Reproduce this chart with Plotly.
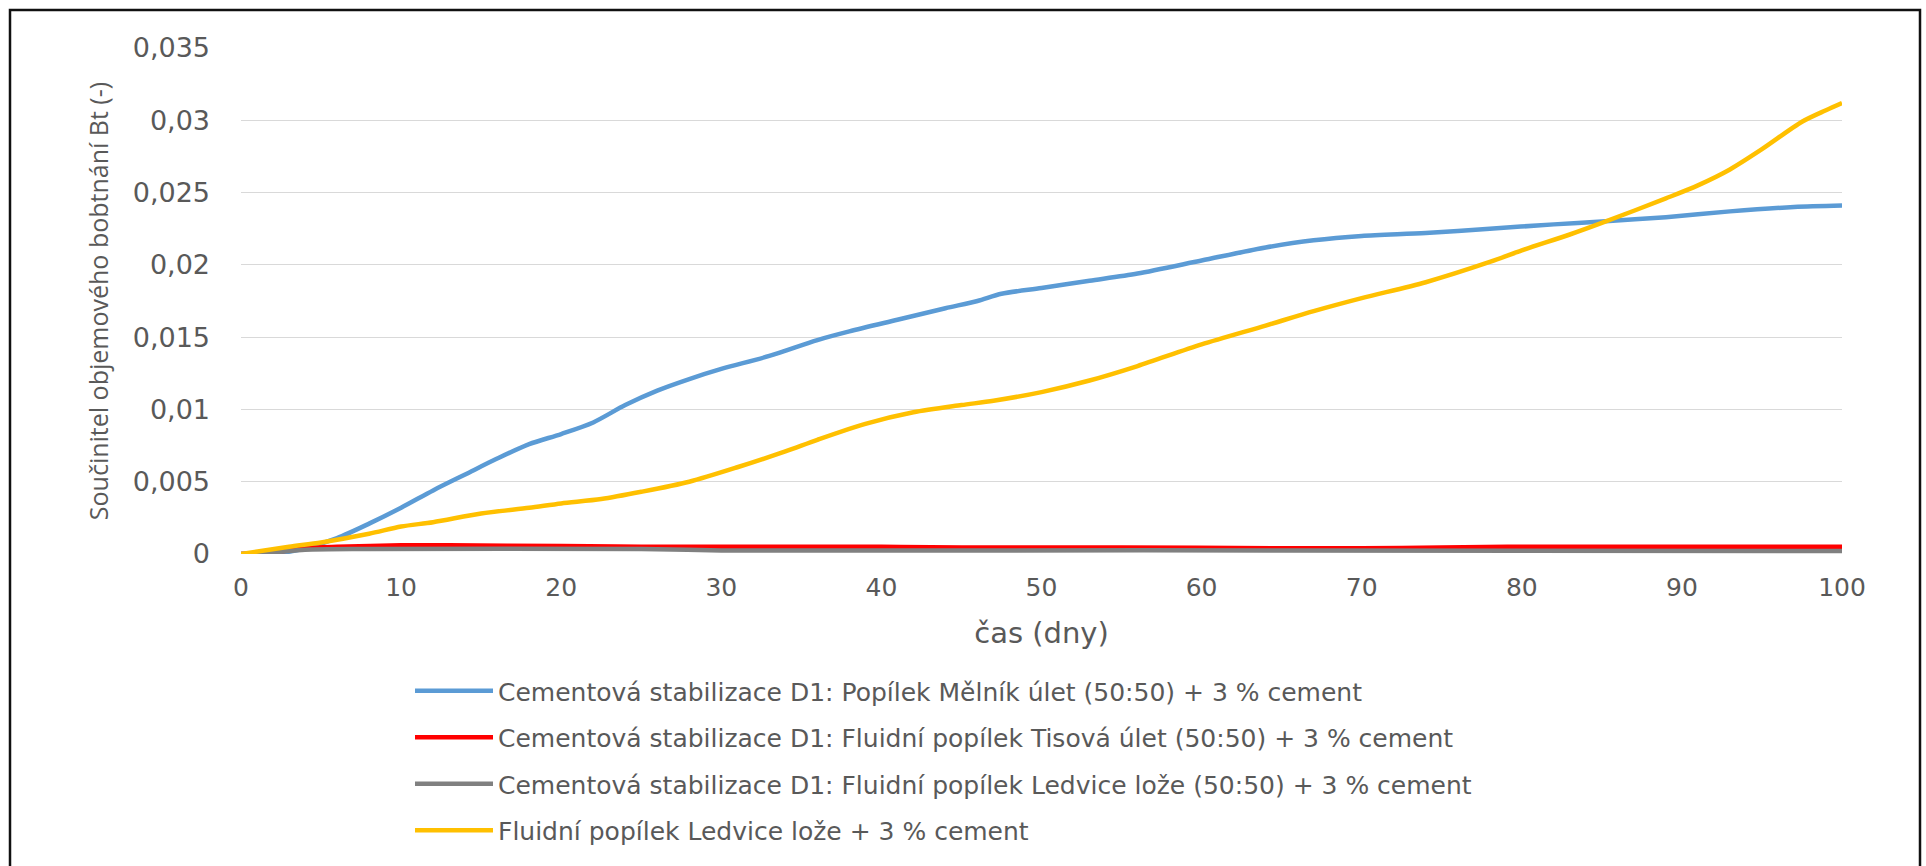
import plotly.graph_objects as go

# ---- data ----
blue_x = [0, 2, 4, 6, 8, 10, 12, 14, 16, 18, 20, 22, 24, 26, 28, 30, 33, 36, 38, 41, 44, 46, 47.5,
          50, 53, 56, 60, 64, 67, 70, 74, 78, 82, 85, 89, 93, 97, 100]
blue_y = [0, 0.0, 0.0004, 0.0011, 0.0021, 0.0032, 0.0044, 0.0055, 0.0066, 0.0076, 0.0083, 0.0091,
          0.0103, 0.0113, 0.0121, 0.0128, 0.0137, 0.0148, 0.0154, 0.0162, 0.0170, 0.0175, 0.0180,
          0.0184, 0.0189, 0.0194, 0.0203, 0.0212, 0.0217, 0.0220, 0.0222, 0.0225, 0.0228, 0.0230,
          0.0233, 0.0237, 0.0240, 0.0241]

red_x = [0, 2, 4, 6, 10, 13, 20, 25, 40, 45, 55, 65, 70, 75, 80, 100]
red_y = [0, 0.0001, 0.0004, 0.0005, 0.0006, 0.0006, 0.00055, 0.0005, 0.0005, 0.00045, 0.00045,
         0.0004, 0.0004, 0.00045, 0.0005, 0.0005]

gray_x = [0, 2, 4, 8, 25, 30, 45, 65, 100]
gray_y = [0, 0.0001, 0.0003, 0.00035, 0.00035, 0.00025, 0.00025, 0.00025, 0.0002]

yellow_x = [0, 3, 5, 8, 10, 12, 15, 18, 20, 22.5, 25, 28, 31, 34, 36, 39, 42, 45, 47, 50, 53, 56,
            60, 64, 67, 70, 74, 78, 80, 83, 85, 89, 91, 93, 95, 97.5, 99, 100]
yellow_y = [0, 0.0005, 0.0008, 0.0014, 0.0019, 0.0022, 0.0028, 0.0032, 0.0035, 0.0038, 0.0043,
            0.0050, 0.0060, 0.0071, 0.0079, 0.0090, 0.0098, 0.0103, 0.0106, 0.0112, 0.0120,
            0.0130, 0.0145, 0.0158, 0.0168, 0.0177, 0.0188, 0.0202, 0.0210, 0.0221, 0.0229,
            0.0246, 0.0255, 0.0266, 0.0280, 0.0299, 0.0307, 0.0312]

names = [
    "Cementová stabilizace D1: Popílek Mělník úlet (50:50) + 3 % cement",
    "Cementová stabilizace D1: Fluidní popílek Tisová úlet (50:50) + 3 % cement",
    "Cementová stabilizace D1: Fluidní popílek Ledvice lože (50:50) + 3 % cement",
    "Fluidní popílek Ledvice lože + 3 % cement",
]
colors = ["#5B9BD5", "#FF0000", "#808080", "#FFC000"]

x_ticks = [0, 10, 20, 30, 40, 50, 60, 70, 80, 90, 100]
y_ticks = [0, 0.005, 0.01, 0.015, 0.02, 0.025, 0.03, 0.035]
y_tick_text = ["0", "0,005", "0,01", "0,015", "0,02", "0,025", "0,03", "0,035"]

x_title = "čas (dny)"
y_title = "Součinitel objemového bobtnání Bt (-)"

series = [(blue_x, blue_y), (red_x, red_y), (gray_x, gray_y), (yellow_x, yellow_y)]

fig = go.Figure()
for i, ((xs, ys), nm, c) in enumerate(zip(series, names, colors)):
    fig.add_trace(go.Scatter(
        x=xs, y=ys, name=nm, mode="lines",
        line=dict(color=c, width=4.5, shape="spline", smoothing=0.8),
        legendgroup=f"g{i}",
    ))

W, H = 1926, 866
L, R, T, B = 241, 84, 48, 312
pw, ph = W - L - R, H - T - B

def px_to_paper_x(px):
    return (px - L) / pw

def py_to_paper_y(py):
    return (H - B - py) / ph

wide_font = "DejaVu Sans, Verdana, sans-serif"
narrow_font = "Open Sans, Segoe UI, Arial, sans-serif"
grey_txt = "#595959"

fig.update_layout(
    width=W, height=H,
    margin=dict(l=L, r=R, t=T, b=B),
    paper_bgcolor="white", plot_bgcolor="white",
    font=dict(family=wide_font, color=grey_txt),
    showlegend=True,
    legend=dict(
        x=px_to_paper_x(410), y=py_to_paper_y(668), xanchor="left", yanchor="top",
        font=dict(size=25, color=grey_txt, family=wide_font),
        tracegroupgap=11, itemwidth=78, bgcolor="rgba(0,0,0,0)",
    ),
    xaxis=dict(
        range=[0, 100], tickvals=x_ticks, ticktext=[str(v) for v in x_ticks],
        showgrid=False, zeroline=False, showline=False, ticks="",
        tickfont=dict(size=25, color=grey_txt, family=wide_font), ticklabelstandoff=16,
        title=dict(text=x_title, font=dict(size=29, color=grey_txt, family=wide_font), standoff=21),
    ),
    yaxis=dict(
        range=[0, 0.035], tickvals=y_ticks, ticktext=y_tick_text,
        showgrid=True, gridcolor="#D9D9D9", gridwidth=1.3, zeroline=False,
        showline=False, ticks="",
        tickfont=dict(size=27, color=grey_txt, family=wide_font), ticklabelstandoff=30,
        title=dict(text=y_title, font=dict(size=25, color=grey_txt, family=narrow_font), standoff=16),
    ),
    shapes=[dict(
        type="rect", xref="paper", yref="paper",
        x0=px_to_paper_x(10), x1=px_to_paper_x(1920),
        y0=py_to_paper_y(10), y1=py_to_paper_y(1000),
        line=dict(color="#111111", width=2.5), fillcolor="rgba(0,0,0,0)", layer="below",
    )],
)

fig.write_html("out.html", config={"displayModeBar": False},
               post_script="document.body.style.margin='0';")
